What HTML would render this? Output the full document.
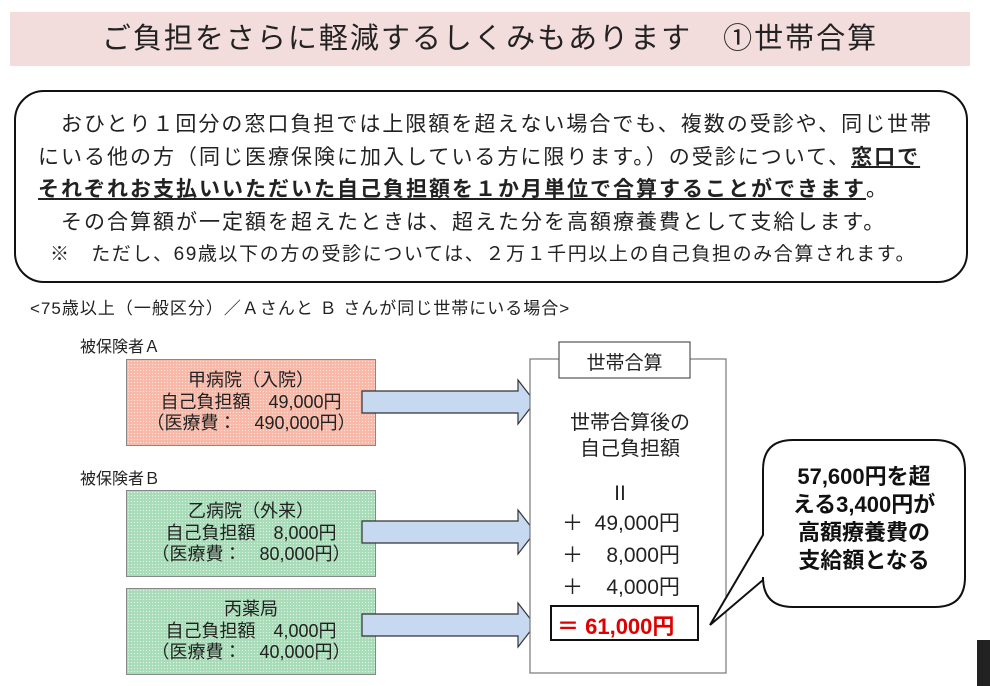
<!DOCTYPE html>
<html><head><meta charset="utf-8"><style>
body{margin:0;width:990px;height:686px;background:#fff;position:relative;overflow:hidden;font-family:"Liberation Sans","Noto Sans CJK JP",sans-serif;color:#222}
.a{position:absolute}
.title{left:10px;top:12px;width:960px;height:54px;background:#f2dcdc;font-size:29px;letter-spacing:2px;line-height:54px;text-align:center;color:#222}
.rb{left:14px;top:90px;width:950px;height:189px;border:2px solid #111;border-radius:30px}
.t{font-size:21px;letter-spacing:2px;white-space:nowrap;color:#222}
.box{left:126px;width:250px;height:87px;border:1px solid #888;text-align:center;font-size:18px;line-height:21.5px;box-sizing:border-box;padding-top:10px;white-space:nowrap}
.pa{background:#f8b8a8;background-image:radial-gradient(#fbe3dc 0.7px,transparent 0.8px);background-size:3px 3px}
.pb{background:#a8dcb8;background-image:radial-gradient(#e0f4e6 0.7px,transparent 0.8px);background-size:3px 3px}
.c{font-size:20px;text-align:center;white-space:nowrap}
</style></head><body>
<div class="a title">ご負担をさらに軽減するしくみもあります　①世帯合算</div>
<div class="a rb"></div>
<div class="a t" style="left:38px;top:108px">　おひとり１回分の窓口負担では上限額を超えない場合でも、複数の受診や、同じ世帯</div>
<div class="a t" style="left:38px;top:141px">にいる他の方（同じ医療保険に加入している方に限ります。）の受診について、<b style="text-decoration:underline">窓口で</b></div>
<div class="a t" style="left:38px;top:173px"><b style="text-decoration:underline">それぞれお支払いいただいた自己負担額を１か月単位で合算することができます</b>。</div>
<div class="a t" style="left:38px;top:206px">　その合算額が一定額を超えたときは、超えた分を高額療養費として支給します。</div>
<div class="a t" style="left:50px;top:239px;font-size:19px;letter-spacing:1.6px">※　ただし、69歳以下の方の受診については、２万１千円以上の自己負担のみ合算されます。</div>
<div class="a" style="left:30px;top:294px;font-size:17px;letter-spacing:1px;white-space:nowrap">&lt;75歳以上（一般区分）／Ａさんと Ｂ さんが同じ世帯にいる場合&gt;</div>
<div class="a" style="left:80px;top:333px;font-size:16px">被保険者Ａ</div>
<div class="a" style="left:80px;top:465px;font-size:16px">被保険者Ｂ</div>
<div class="a box pa" style="top:359px">甲病院（入院）<br>自己負担額　49,000円<br>（医療費：　490,000円）</div>
<div class="a box pb" style="top:490px">乙病院（外来）<br>自己負担額　8,000円<br>（医療費：　80,000円）</div>
<div class="a box pb" style="top:588px">丙薬局<br>自己負担額　4,000円<br>（医療費：　40,000円）</div>
<svg class="a" style="left:0;top:0" width="990" height="686">
<g fill="#c6d9f0" stroke="#333" stroke-width="1.2">
<polygon points="362,391 518,391 518,380 535,402 518,424 518,413 362,413"/>
<polygon points="362,521 518,521 518,510 535,532 518,554 518,543 362,543"/>
<polygon points="362,614 518,614 518,603 535,625 518,647 518,636 362,636"/>
</g>
<rect x="530" y="359" width="196" height="314" fill="#fff" stroke="#777" stroke-width="1.2"/>
<rect x="559" y="342" width="131" height="36" fill="#fff" stroke="#555" stroke-width="1.2"/>
<rect x="551" y="606" width="147" height="34" fill="#fff" stroke="#111" stroke-width="2"/>
<path d="M793,440 H935 Q965,440 965,470 V577 Q965,607 935,607 H793 Q763,607 763,577 V580 L710,625 L763,535 V470 Q763,440 793,440 Z" fill="#fff" stroke="#111" stroke-width="2"/>
<rect x="977" y="640" width="13" height="46" fill="#222"/>
</svg>
<div class="a c" style="left:559px;top:348px;width:131px;font-size:19px">世帯合算</div>
<div class="a c" style="left:530px;top:410px;width:200px;line-height:26px">世帯合算後の<br>自己負担額</div>
<div class="a c" style="left:530px;top:477px;width:180px">Ⅱ</div>
<div class="a c" style="left:562px;top:507px;text-align:left;font-size:21px">＋ &nbsp;49,000円</div>
<div class="a c" style="left:562px;top:539px;text-align:left;font-size:21px">＋ &nbsp; &nbsp;8,000円</div>
<div class="a c" style="left:562px;top:571px;text-align:left;font-size:21px">＋ &nbsp; &nbsp;4,000円</div>
<div class="a" style="left:557px;top:609px;font-size:22px;font-weight:bold;color:#e00000;white-space:nowrap">＝ 61,000円</div>
<div class="a" style="left:763px;top:463px;width:202px;text-align:center;font-size:22px;font-weight:bold;line-height:28px;color:#111;white-space:nowrap">57,600円を超<br>える3,400円が<br>高額療養費の<br>支給額となる</div>
</body></html>
